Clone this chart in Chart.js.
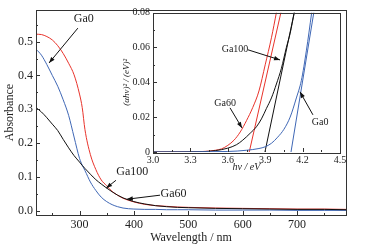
<!DOCTYPE html>
<html><head><meta charset="utf-8">
<script src="https://cdn.jsdelivr.net/npm/chart.js@4"></script>
<style>
html,body{margin:0;padding:0;background:#fff;}
#wrap{position:relative;width:383px;height:248px;}
canvas{position:absolute;left:0;top:0;}
</style></head><body>
<div id="wrap"><canvas id="main" width="383" height="248"></canvas><canvas id="inset" width="383" height="248"></canvas></div>
<script>
// ---- main chart data (absorbance vs wavelength) ----
const wavelength = [220,230,240,250,260,270,280,290,300,305,310,320,330,340,350,360,370,380,390,400,420,440,460,480,500,550,600,650,700,750,790];
const absGa60  = [0.522,0.521,0.515,0.505,0.488,0.465,0.436,0.402,0.345,0.305,0.240,0.166,0.122,0.091,0.074,0.057,0.046,0.037,0.031,0.026,0.019,0.015,0.013,0.011,0.010,0.008,0.007,0.006,0.005,0.005,0.004];
const absGa0   = [0.478,0.460,0.432,0.400,0.368,0.328,0.282,0.218,0.155,0.135,0.119,0.085,0.060,0.040,0.027,0.018,0.012,0.008,0.006,0.005,0.004,0.004,0.003,0.003,0.003,0.002,0.002,0.002,0.001,0.001,0.001];
const absGa100 = [0.305,0.292,0.275,0.256,0.237,0.211,0.186,0.163,0.144,0.134,0.125,0.108,0.092,0.079,0.067,0.056,0.046,0.038,0.032,0.027,0.020,0.015,0.012,0.010,0.009,0.007,0.006,0.005,0.004,0.004,0.003];
const mainXTicks = [300,400,500,600,700];
const mainXMinor = [250,350,450,550,650,750];
const mainYTicks = [0,0.1,0.2,0.3,0.4,0.5];
const mainYMinor = [0.05,0.15,0.25,0.35,0.45,0.55];

// ---- inset data (Tauc plot) ----
const tGa60Ev  = [3.0,3.3,3.45,3.5,3.55,3.6,3.65,3.7,3.75,3.8,3.85,3.9,3.95,3.99];
const tGa60Val = [0,0.0001,0.0005,0.001,0.0018,0.0038,0.0068,0.0115,0.018,0.0255,0.035,0.050,0.0655,0.08];
const tGa100Ev  = [3.0,3.4,3.5,3.6,3.67,3.72,3.78,3.83,3.87,3.91,3.95,3.99,4.03,4.07,4.1,4.133];
const tGa100Val = [0,0.0002,0.0008,0.0022,0.0042,0.0068,0.0108,0.0145,0.019,0.025,0.031,0.039,0.048,0.060,0.068,0.08];
const tGa0Ev  = [3.0,3.6,3.75,3.85,3.9,3.95,4.0,4.05,4.1,4.15,4.19,4.23,4.273];
const tGa0Val = [0,0.0003,0.001,0.002,0.003,0.005,0.0085,0.013,0.02,0.031,0.041,0.058,0.08];
const fitGa60Ev  = [3.772,4.026];
const fitGa100Ev = [3.898,4.133];
const fitGa0Ev   = [4.107,4.29];
const fitVal     = [0,0.08];
const insetXTicks = [3.0,3.3,3.6,3.9,4.2,4.5];
const insetXMinor = [3.15,3.45,3.75,4.05,4.35];
const insetYTicks = [0,0.02,0.04,0.06,0.08];
const insetYMinor = [0.01,0.03,0.05,0.07];

const RED = '#e8332b', BLUE = '#3f67b5', BLACK = '#111';
const FONT = 'Liberation Serif';
const TXT = '#222';

function pts(xs, ys){ return xs.map((x,i)=>({x:x,y:ys[i]})); }
function ds(xs, ys, color, w){
  return {data: pts(xs,ys), borderColor: color, borderWidth: w||1, pointRadius: 0, fill:false,
          cubicInterpolationMode:'monotone'};
}

const decor = {
  id:'decor',
  beforeDraw(chart){
    const o = chart.options.plugins.decor;
    const a = chart.chartArea, c = chart.ctx;
    if (o.bg){ c.save(); c.fillStyle = '#fff'; c.fillRect(a.left, a.top, a.right-a.left, a.bottom-a.top); c.restore(); }
  },
  afterDraw(chart){
    const o = chart.options.plugins.decor;
    const a = chart.chartArea, c = chart.ctx;
    const sx = chart.scales.x, sy = chart.scales.y;
    c.save();
    c.strokeStyle = '#333'; c.lineWidth = 1;
    c.strokeRect(Math.round(a.left)+0.5, Math.round(a.top)+0.5, Math.round(a.right-a.left), Math.round(a.bottom-a.top));
    c.beginPath();
    const tick = (vals, len, horiz) => vals.forEach(v=>{
      if (horiz){ const p = Math.round(sx.getPixelForValue(v))+0.5; c.moveTo(p, a.bottom); c.lineTo(p, a.bottom-len); }
      else { const p = Math.round(sy.getPixelForValue(v))+0.5; c.moveTo(a.left, p); c.lineTo(a.left+len, p); }
    });
    tick(o.xMajor, o.major, true); tick(o.xMinor, o.minor, true);
    tick(o.yMajor, o.major, false); tick(o.yMinor, o.minor, false);
    c.stroke();
    // annotations
    c.fillStyle = TXT; c.strokeStyle = '#111';
    c.font = o.annFont + 'px "' + FONT + '"';
    c.textAlign = 'center'; c.textBaseline = 'middle';
    o.notes.forEach(n=>{
      c.fillText(n.text, sx.getPixelForValue(n.tx), sy.getPixelForValue(n.ty));
      const x1 = sx.getPixelForValue(n.x1), y1 = sy.getPixelForValue(n.y1);
      const x2 = sx.getPixelForValue(n.x2), y2 = sy.getPixelForValue(n.y2);
      c.beginPath(); c.moveTo(x1,y1); c.lineTo(x2,y2); c.lineWidth = 1; c.stroke();
      const ang = Math.atan2(y2-y1, x2-x1), L = 6, W = 2.2;
      c.beginPath();
      c.moveTo(x2,y2);
      c.lineTo(x2 - L*Math.cos(ang) + W*Math.sin(ang), y2 - L*Math.sin(ang) - W*Math.cos(ang));
      c.lineTo(x2 - L*Math.cos(ang) - W*Math.sin(ang), y2 - L*Math.sin(ang) + W*Math.cos(ang));
      c.closePath(); c.fillStyle = '#111'; c.fill(); c.fillStyle = TXT;
    });
    c.restore();
  }
};

function fixTicks(arr){ return s => { s.ticks = arr.map(v=>({value:v})); }; }

new Chart(document.getElementById('main'), {
  type:'line',
  data:{ datasets:[ ds(wavelength,absGa100,BLACK), ds(wavelength,absGa0,BLUE), ds(wavelength,absGa60,RED) ] },
  options:{
    responsive:false, animation:false, devicePixelRatio:1,
    layout:{ padding:{left:0, top:9, right:37, bottom:0} },
    plugins:{ legend:{display:false}, tooltip:{enabled:false},
      decor:{ bg:false, major:4, minor:2, annFont:12,
        xMajor:mainXTicks, xMinor:mainXMinor, yMajor:mainYTicks, yMinor:mainYMinor,
        notes:[
          {text:'Ga0',  tx:308, ty:0.567, x1:297, y1:0.540, x2:244, y2:0.437},
          {text:'Ga100',tx:397, ty:0.114, x1:367, y1:0.090, x2:349, y2:0.067},
          {text:'Ga60', tx:473, ty:0.049, x1:448, y1:0.046, x2:387, y2:0.034}
        ] } },
    scales:{
      x:{ type:'linear', min:220, max:790,
        grid:{display:false, drawTicks:false}, border:{display:false},
        afterBuildTicks: fixTicks(mainXTicks),
        afterFit: s => { s.height = 33; },
        ticks:{ font:{family:FONT, size:12}, color:TXT, padding:3, maxRotation:0, autoSkip:false,
          callback: v => String(v) },
        title:{ display:true, text:'Wavelength / nm', font:{family:FONT, size:12}, color:TXT, padding:{top:0,bottom:3} } },
      y:{ type:'linear', min:-0.0126, max:0.593,
        grid:{display:false, drawTicks:false}, border:{display:false},
        afterBuildTicks: fixTicks(mainYTicks),
        afterFit: s => { s.width = 36; },
        ticks:{ font:{family:FONT, size:12}, color:TXT, padding:3, autoSkip:false,
          callback: v => Number(v).toFixed(1) },
        title:{ display:true, text:'Absorbance', font:{family:FONT, size:12}, color:TXT, padding:{top:3,bottom:0} } }
    }
  },
  plugins:[decor]
});

new Chart(document.getElementById('inset'), {
  type:'line',
  data:{ datasets:[
    ds(tGa0Ev,tGa0Val,BLUE), ds(fitGa0Ev,fitVal,BLUE),
    ds(tGa100Ev,tGa100Val,BLACK), ds(fitGa100Ev,fitVal,BLACK),
    ds(tGa60Ev,tGa60Val,RED), ds(fitGa60Ev,fitVal,RED)
  ] },
  options:{
    responsive:false, animation:false, devicePixelRatio:1,
    layout:{ padding:{left:118, top:12.5, right:43, bottom:73} },
    plugins:{ legend:{display:false}, tooltip:{enabled:false},
      decor:{ bg:true, major:4, minor:2, annFont:10,
        xMajor:insetXTicks, xMinor:insetXMinor, yMajor:insetYTicks, yMinor:insetYMinor,
        notes:[
          {text:'Ga100',tx:3.658, ty:0.0586, x1:3.762, y1:0.0586, x2:4.019, y2:0.0528},
          {text:'Ga60', tx:3.578, ty:0.0279, x1:3.618, y1:0.0253, x2:3.714, y2:0.0138},
          {text:'Ga0',  tx:4.34,  ty:0.0172, x1:4.283, y1:0.0213, x2:4.179, y2:0.0345}
        ] } },
    scales:{
      x:{ type:'linear', min:3.0, max:4.5,
        grid:{display:false, drawTicks:false}, border:{display:false},
        afterBuildTicks: fixTicks(insetXTicks),
        afterFit: s => { s.height = 23; },
        ticks:{ font:{family:FONT, size:10}, color:TXT, padding:2, maxRotation:0, autoSkip:false,
          callback: v => Number(v).toFixed(1) },
        title:{ display:true, text:'hν / eV', font:{family:FONT, size:10, style:'italic'}, color:TXT, padding:{top:0,bottom:2} } },
      y:{ type:'linear', min:0, max:0.08,
        grid:{display:false, drawTicks:false}, border:{display:false},
        afterBuildTicks: fixTicks(insetYTicks),
        afterFit: s => { s.width = 35; },
        ticks:{ font:{family:FONT, size:10}, color:TXT, padding:3, autoSkip:false,
          callback: v => (v === 0 ? '0' : Number(v).toFixed(2)) },
        title:{ display:true, text:'(αhν)² / (eV)²', font:{family:FONT, size:9, style:'italic'}, color:TXT, padding:{top:3,bottom:0} } }
    }
  },
  plugins:[decor]
});
</script>
</body></html>
